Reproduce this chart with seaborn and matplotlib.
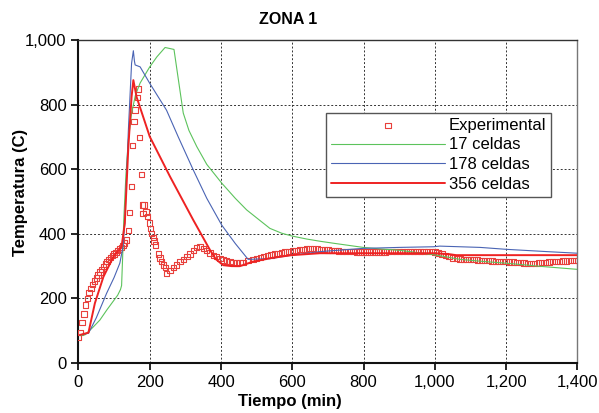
import pandas as pd
import seaborn as sns
import matplotlib.pyplot as plt
from matplotlib.ticker import StrMethodFormatter

# Experimental (tiempo, temperatura)
exp_t = [0, 5, 10, 15, 20, 25, 30, 35, 40, 45, 50, 55, 60, 65, 70, 75, 80, 85, 90, 95,
         100, 105, 110, 115, 120, 125, 130, 135, 140, 144, 148, 152, 156, 159, 165, 168,
         172, 176, 180, 181, 184, 189, 193, 199, 202, 205, 210, 212, 217, 224, 229, 233,
         238, 244, 247, 257, 266, 275, 285, 294, 304, 313, 322, 332, 341, 350, 360, 369,
         378, 388, 397, 406, 415, 425, 434, 444, 453, 462, 476, 490,
         500, 510, 520, 530, 540, 550, 560, 570, 580, 590, 600, 610, 620, 630, 640, 650,
         660, 670, 680, 690, 700, 710, 720, 730, 740, 750, 760, 770, 780, 790, 800, 810,
         820, 830, 840, 850, 860, 870, 880, 890, 900, 910, 920, 930, 940, 950, 960, 970,
         980, 990, 1000, 1010, 1020, 1030, 1040, 1050, 1060, 1070, 1080, 1090, 1100, 1110,
         1120, 1130, 1140, 1150, 1160, 1170, 1180, 1190, 1200, 1210, 1220, 1230, 1240,
         1250, 1260, 1270, 1280, 1290, 1300, 1310, 1320, 1330, 1340, 1350, 1360, 1370,
         1380, 1390, 1400]
exp_T = [80, 95, 125, 152, 180, 200, 218, 230, 243, 254, 263, 272, 282, 290, 298, 307,
         314, 320, 327, 333, 338, 343, 348, 353, 358, 364, 372, 381, 410, 466, 546, 673,
         747, 783, 822, 848, 699, 583, 489, 463, 489, 468, 453, 434, 417, 401, 389, 378,
         365, 337, 325, 314, 303, 296, 278, 286, 296, 303, 314, 321, 330, 337, 348, 357,
         360, 355, 348, 341, 333, 329, 324, 319, 316, 314, 311, 310, 311, 311, 317, 321,
         324, 327, 330, 333, 335, 337, 340, 342, 344, 345, 347, 349, 351, 352, 353, 354,
         354, 353, 352, 351, 350, 349, 348, 347, 346, 346, 345, 345, 344, 344, 344, 344,
         344, 344, 344, 344, 344, 345, 345, 345, 345, 345, 345, 346, 346, 346, 346, 346,
         345, 345, 344, 341, 337, 333, 329, 325, 323, 322, 321, 321, 321, 320,
         319, 318, 317, 317, 316, 315, 315, 314, 314, 313, 313, 312, 311,
         310, 309, 309, 309, 310, 311, 312, 313, 314, 314, 315, 316, 316,
         317, 317, 317]

# 17 celdas
c17_t = [5, 18, 40, 60, 80, 100, 110, 118, 121, 124, 127, 133, 140, 149, 160, 173, 200,
         220, 243, 268, 280, 294, 310, 332, 360, 402, 440, 472, 505, 537, 570, 600, 640,
         678, 715, 760, 799, 850, 902, 958, 1000, 1070, 1130, 1201, 1300, 1400]
c17_T = [85, 87, 110, 133, 165, 195, 210, 228, 240, 330, 440, 580, 690, 774, 830, 867, 917,
         948, 977, 971, 880, 774, 720, 670, 615, 557, 510, 474, 445, 417, 402, 393, 384,
         377, 371, 364, 358, 353, 349, 341, 335, 321, 315, 309, 299, 290]

# 178 celdas
c178_t = [4, 28, 50, 79, 100, 116, 125, 130, 140, 149, 154, 157, 159, 173, 200, 247, 280,
          322, 360, 402, 440, 476, 537, 598, 678, 799, 900, 996, 1014, 1127, 1201, 1314,
          1400]
c178_T = [87, 92, 140, 216, 265, 309, 360, 433, 721, 928, 967, 935, 923, 917, 866, 783,
          700, 598, 510, 427, 370, 321, 323, 334, 345, 355, 358, 360, 362, 358, 352, 345,
          340]

# 356 celdas
c356_t = [4, 28, 46, 70, 98, 121, 130, 140, 149, 154, 163, 200, 257, 322, 369, 385, 406,
          430, 453, 490, 540, 598, 678, 799, 996, 1040, 1060, 1400]
c356_T = [87, 94, 185, 267, 329, 360, 433, 670, 824, 876, 824, 701, 577, 443, 350, 322,
          303, 300, 300, 314, 325, 334, 340, 340, 340, 337, 334, 334]

sns.set_style('white')
plt.rcParams['font.family'] = ['Liberation Sans', 'DejaVu Sans']
plt.rcParams['text.color'] = 'black'
plt.rcParams['xtick.color'] = 'black'
plt.rcParams['ytick.color'] = 'black'

fig = plt.figure(figsize=(5.99, 4.13), dpi=100)
ax = fig.add_axes([0.131, 0.121, 0.833, 0.782])

df_exp = pd.DataFrame({'t': exp_t, 'T': exp_T})
df17 = pd.DataFrame({'t': c17_t, 'T': c17_T})
df178 = pd.DataFrame({'t': c178_t, 'T': c178_T})
df356 = pd.DataFrame({'t': c356_t, 'T': c356_T})

sns.scatterplot(data=df_exp, x='t', y='T', ax=ax, marker='s', s=15,
                facecolors='none', edgecolors='#e8403c', linewidth=0.8,
                label='Experimental', zorder=3)
sns.lineplot(data=df17, x='t', y='T', ax=ax, color='#5cc35c', linewidth=0.8,
             estimator=None, sort=False, label='17 celdas', zorder=4)
sns.lineplot(data=df178, x='t', y='T', ax=ax, color='#4a64b4', linewidth=0.8,
             estimator=None, sort=False, label='178 celdas', zorder=4)
sns.lineplot(data=df356, x='t', y='T', ax=ax, color='#ee2222', linewidth=1.4,
             estimator=None, sort=False, label='356 celdas', zorder=5)

ax.set_xlim(0, 1400)
ax.set_ylim(0, 1000)
ax.set_xticks(range(0, 1401, 200))
ax.set_yticks(range(0, 1001, 200))
ax.xaxis.set_major_formatter(StrMethodFormatter('{x:,.0f}'))
ax.yaxis.set_major_formatter(StrMethodFormatter('{x:,.0f}'))
ax.tick_params(axis='both', direction='out', length=5, width=1.2, labelsize=12,
               colors='black', left=True, bottom=True)
ax.grid(True, color='#333333', linestyle=(0, (2, 2)), linewidth=0.7)
ax.set_xlabel('')
ax.set_ylabel('')
for side in ['left', 'bottom']:
    ax.spines[side].set_color('#111111')
    ax.spines[side].set_linewidth(1.5)
ax.spines['top'].set_color('#333333')
ax.spines['top'].set_linewidth(1.0)
ax.spines['right'].set_color('#777777')
ax.spines['right'].set_linewidth(1.0)

leg = ax.legend(loc='upper left', bbox_to_anchor=(0.545, 0.727), bbox_transform=fig.transFigure,
                fontsize=12, frameon=True, fancybox=False, framealpha=1,
                edgecolor='#555555', borderaxespad=0, borderpad=0.3,
                handlelength=6.8, handletextpad=0.25, labelspacing=0.28, markerscale=1.0)
leg.get_frame().set_linewidth(1.0)
for txt in leg.get_texts():
    txt.set_color('black')

fig.text(0.4817, 0.9516, 'ZONA 1', ha='center', va='center', fontsize=11.5,
         fontweight='bold', color='black')
fig.text(0.484, 0.029, 'Tiempo (min)', ha='center', va='center', fontsize=12,
         fontweight='bold', color='black')
fig.text(0.0334, 0.535, 'Temperatura (C)', ha='center', va='center', rotation=90,
         fontsize=12, fontweight='bold', color='black')

fig.savefig('out.png', dpi=100)
